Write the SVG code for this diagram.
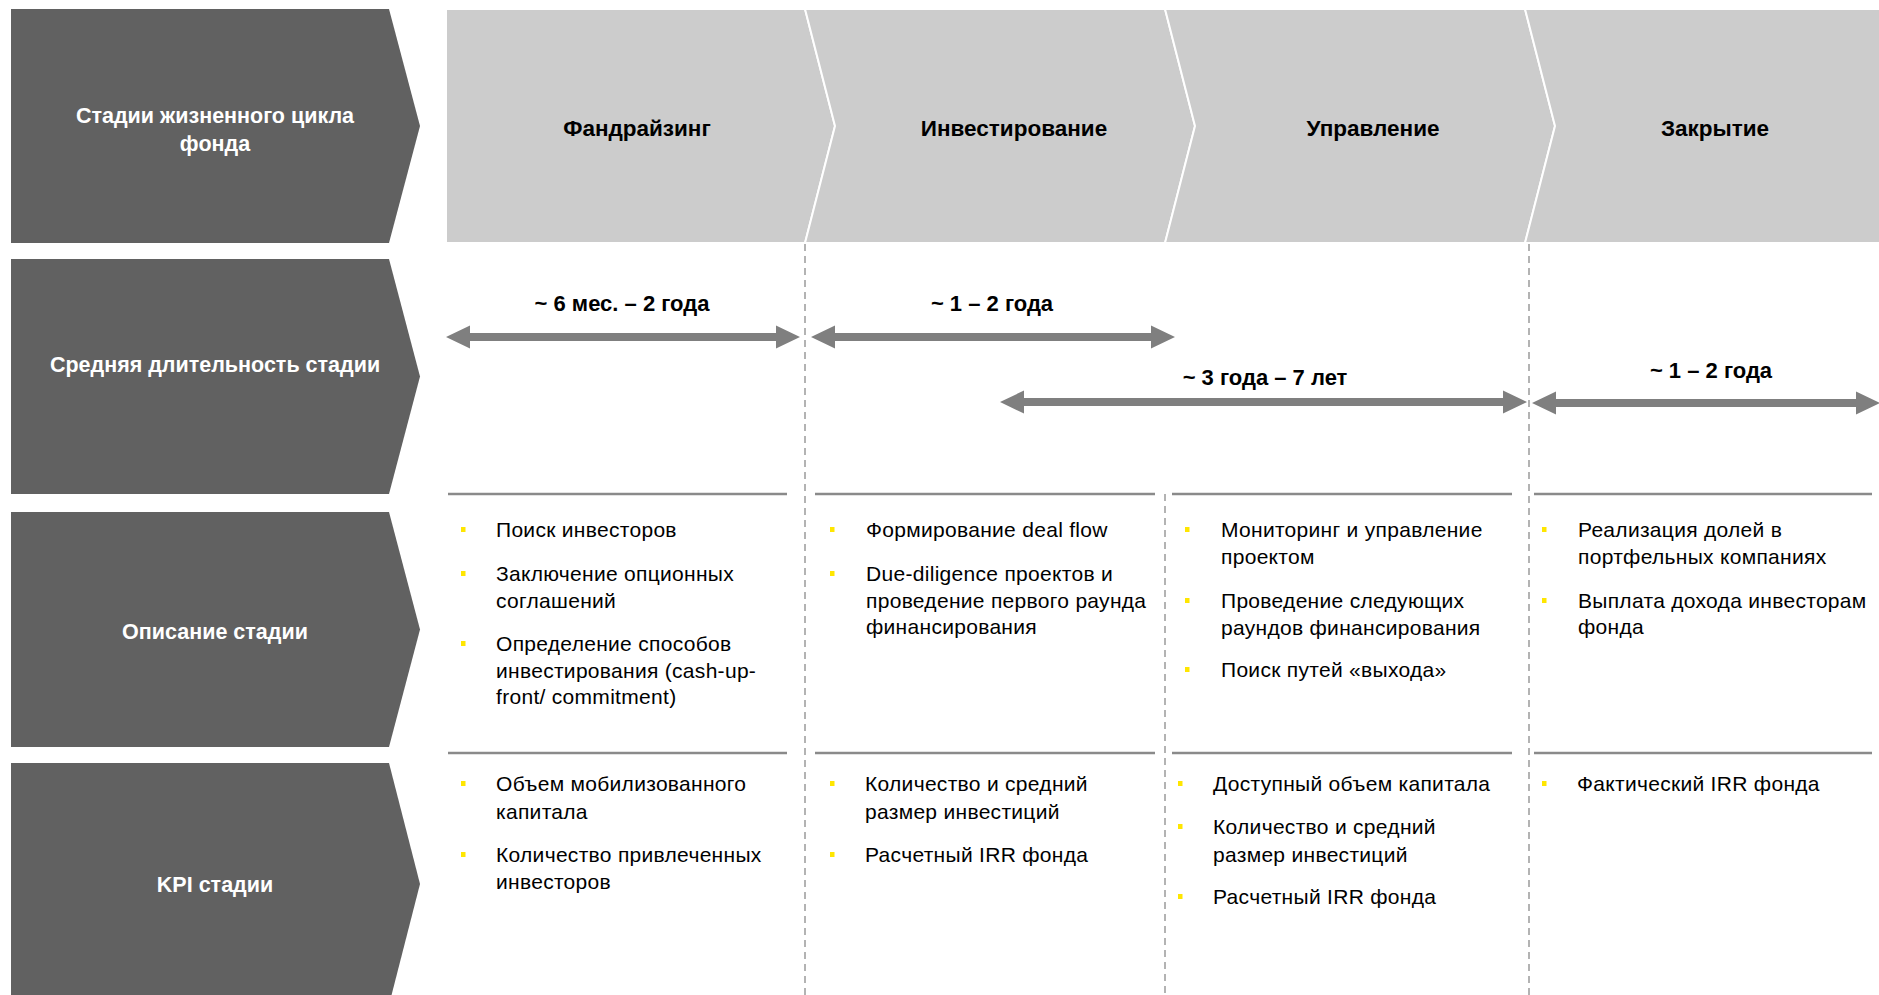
<svg xmlns="http://www.w3.org/2000/svg" width="1879" height="995" viewBox="0 0 1879 995">
  <style>
    .row { fill: #616161; }
    .stage { fill: #cccccc; stroke: #ffffff; stroke-width: 2; }
    .lbl { font-family: "Liberation Sans", Arial, sans-serif; font-weight: bold; font-size: 21.5px; fill: #ffffff; text-anchor: middle; }
    .stg { font-family: "Liberation Sans", Arial, sans-serif; font-weight: bold; font-size: 22.5px; fill: #000000; text-anchor: middle; }
    .dur { font-family: "Liberation Sans", Arial, sans-serif; font-weight: bold; font-size: 22px; fill: #000000; text-anchor: middle; }
    .txt { font-family: "Liberation Sans", Arial, sans-serif; font-size: 21px; letter-spacing: 0.3px; fill: #000000; }
    .bul { fill: #ffe600; }
    .sep { stroke: #8a8a8a; stroke-width: 2.5; fill: none; }
    .dash { stroke: #9a9a9a; stroke-width: 1.5; stroke-dasharray: 7 5; fill: none; }
    .arr { fill: #7f7f7f; }
  </style>

  <!-- Row headers -->
  <g id="row-lifecycle">
    <polygon class="row" points="11,9 389,9 420,126 389,243 11,243"/>
    <text class="lbl" x="215" y="123">Стадии жизненного цикла</text>
    <text class="lbl" x="215" y="151">фонда</text>
  </g>
  <g id="row-duration">
    <polygon class="row" points="11,259 389,259 420,376.5 389,494 11,494"/>
    <text class="lbl" x="215" y="372">Средняя длительность стадии</text>
  </g>
  <g id="row-description">
    <polygon class="row" points="11,512 389,512 420,629.5 389,747 11,747"/>
    <text class="lbl" x="215" y="639">Описание стадии</text>
  </g>
  <g id="row-kpi">
    <polygon class="row" points="11,763 389,763 420,884 389,1005 11,1005"/>
    <text class="lbl" x="215" y="892">KPI стадии</text>
  </g>

  <!-- Stage chevrons -->
  <g id="stage-fundraising">
    <polygon class="stage" points="446,9 805,9 835,126 805,243 446,243"/>
    <text class="stg" x="637" y="136">Фандрайзинг</text>
  </g>
  <g id="stage-investing">
    <polygon class="stage" points="805,9 1165,9 1195,126 1165,243 805,243 835,126"/>
    <text class="stg" x="1014" y="136">Инвестирование</text>
  </g>
  <g id="stage-management">
    <polygon class="stage" points="1165,9 1525,9 1555,126 1525,243 1165,243 1195,126"/>
    <text class="stg" x="1373" y="136">Управление</text>
  </g>
  <g id="stage-closing">
    <polygon class="stage" points="1525,9 1881,9 1881,243 1525,243 1555,126"/>
    <text class="stg" x="1715" y="136">Закрытие</text>
  </g>

  <!-- Grid lines -->
  <g id="grid-lines">
    <line class="dash" x1="805" y1="244" x2="805" y2="995"/>
    <line class="dash" x1="1165" y1="494" x2="1165" y2="995"/>
    <line class="dash" x1="1529" y1="244" x2="1529" y2="995"/>
    <line class="sep" x1="448" y1="494" x2="787" y2="494"/>
    <line class="sep" x1="815" y1="494" x2="1155" y2="494"/>
    <line class="sep" x1="1172" y1="494" x2="1512" y2="494"/>
    <line class="sep" x1="1534" y1="494" x2="1872" y2="494"/>
    <line class="sep" x1="448" y1="753" x2="787" y2="753"/>
    <line class="sep" x1="815" y1="753" x2="1155" y2="753"/>
    <line class="sep" x1="1172" y1="753" x2="1512" y2="753"/>
    <line class="sep" x1="1534" y1="753" x2="1872" y2="753"/>
  </g>

  <!-- Duration arrows (connectors) -->
  <g id="connectors">
    <polygon class="arr" points="446,337 470,325.5 470,333 776,333 776,325.5 800,337 776,348.5 776,341 470,341 470,348.5"/>
    <polygon class="arr" points="811,337 835,325.5 835,333 1151,333 1151,325.5 1175,337 1151,348.5 1151,341 835,341 835,348.5"/>
    <polygon class="arr" points="1000,402 1024,390.5 1024,398 1503,398 1503,390.5 1527,402 1503,413.5 1503,406 1024,406 1024,413.5"/>
    <polygon class="arr" points="1532,403 1556,391.5 1556,399 1856,399 1856,391.5 1880,403 1856,414.5 1856,407 1556,407 1556,414.5"/>
  </g>
  <g id="duration-labels">
    <text class="dur" x="622" y="311">~ 6 мес. – 2 года</text>
    <text class="dur" x="992" y="311">~ 1 – 2 года</text>
    <text class="dur" x="1265" y="385">~ 3 года – 7 лет</text>
    <text class="dur" x="1711" y="378">~ 1 – 2 года</text>
  </g>

  <!-- Descriptions -->
  <g id="desc-fundraising">
    <rect class="bul" x="461" y="527" width="4.5" height="5"/>
    <text class="txt" x="496" y="537">Поиск инвесторов</text>
    <rect class="bul" x="461" y="571" width="4.5" height="5"/>
    <text class="txt" x="496" y="581">Заключение опционных</text>
    <text class="txt" x="496" y="608">соглашений</text>
    <rect class="bul" x="461" y="641" width="4.5" height="5"/>
    <text class="txt" x="496" y="651">Определение способов</text>
    <text class="txt" x="496" y="678">инвестирования (cash-up-</text>
    <text class="txt" x="496" y="704">front/ commitment)</text>
  </g>
  <g id="desc-investing">
    <rect class="bul" x="830" y="527" width="4.5" height="5"/>
    <text class="txt" x="866" y="537">Формирование deal flow</text>
    <rect class="bul" x="830" y="571" width="4.5" height="5"/>
    <text class="txt" x="866" y="581">Due-diligence проектов и</text>
    <text class="txt" x="866" y="608">проведение первого раунда</text>
    <text class="txt" x="866" y="634">финансирования</text>
  </g>
  <g id="desc-management">
    <rect class="bul" x="1185" y="527" width="4.5" height="5"/>
    <text class="txt" x="1221" y="537">Мониторинг и управление</text>
    <text class="txt" x="1221" y="564">проектом</text>
    <rect class="bul" x="1185" y="598" width="4.5" height="5"/>
    <text class="txt" x="1221" y="608">Проведение следующих</text>
    <text class="txt" x="1221" y="635">раундов финансирования</text>
    <rect class="bul" x="1185" y="667" width="4.5" height="5"/>
    <text class="txt" x="1221" y="677">Поиск путей «выхода»</text>
  </g>
  <g id="desc-closing">
    <rect class="bul" x="1542" y="527" width="4.5" height="5"/>
    <text class="txt" x="1578" y="537">Реализация долей в</text>
    <text class="txt" x="1578" y="564">портфельных компаниях</text>
    <rect class="bul" x="1542" y="598" width="4.5" height="5"/>
    <text class="txt" x="1578" y="608">Выплата дохода инвесторам</text>
    <text class="txt" x="1578" y="634">фонда</text>
  </g>

  <!-- KPIs -->
  <g id="kpi-fundraising">
    <rect class="bul" x="461" y="781" width="4.5" height="5"/>
    <text class="txt" x="496" y="791">Объем мобилизованного</text>
    <text class="txt" x="496" y="819">капитала</text>
    <rect class="bul" x="461" y="852" width="4.5" height="5"/>
    <text class="txt" x="496" y="862">Количество привлеченных</text>
    <text class="txt" x="496" y="889">инвесторов</text>
  </g>
  <g id="kpi-investing">
    <rect class="bul" x="830" y="781" width="4.5" height="5"/>
    <text class="txt" x="865" y="791">Количество и средний</text>
    <text class="txt" x="865" y="819">размер инвестиций</text>
    <rect class="bul" x="830" y="852" width="4.5" height="5"/>
    <text class="txt" x="865" y="862">Расчетный IRR фонда</text>
  </g>
  <g id="kpi-management">
    <rect class="bul" x="1178" y="781" width="4.5" height="5"/>
    <text class="txt" x="1213" y="791">Доступный объем капитала</text>
    <rect class="bul" x="1178" y="824" width="4.5" height="5"/>
    <text class="txt" x="1213" y="834">Количество и средний</text>
    <text class="txt" x="1213" y="862">размер инвестиций</text>
    <rect class="bul" x="1178" y="894" width="4.5" height="5"/>
    <text class="txt" x="1213" y="904">Расчетный IRR фонда</text>
  </g>
  <g id="kpi-closing">
    <rect class="bul" x="1542" y="781" width="4.5" height="5"/>
    <text class="txt" x="1577" y="791">Фактический IRR фонда</text>
  </g>
</svg>
